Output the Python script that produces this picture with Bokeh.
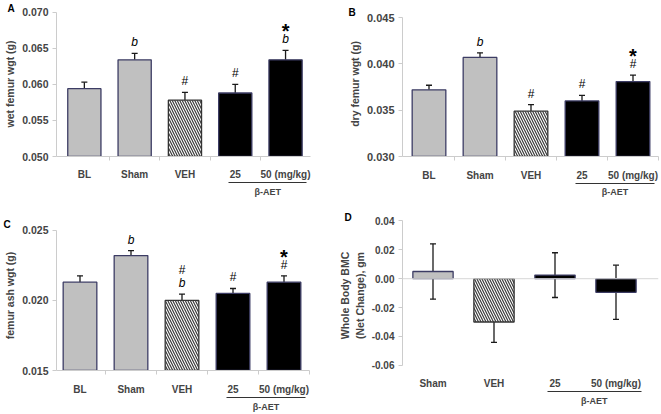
from bokeh.plotting import figure
from bokeh.models import (ColumnDataSource, Range1d, FixedTicker, NumeralTickFormatter,
                          Whisker, TeeHead, Span, LinearAxis, CustomJSTickFormatter)
from bokeh.layouts import column, row
from bokeh.embed import file_html
from bokeh.resources import INLINE
from bokeh.core.properties import value

# ---------------- data ----------------
cats5 = ["BL", "Sham", "VEH", "25", "50 (mg/kg)"]
styles5 = ["gray", "gray", "hatch", "black", "black"]

wet_mean = [0.0594, 0.0634, 0.0578, 0.0588, 0.0634]
wet_err = [0.0009, 0.0009, 0.0011, 0.0012, 0.0013]
wet_ann = [[], ["b"], ["#"], ["#"], ["b", "*"]]
wet_ticks = [0.050, 0.055, 0.060, 0.065, 0.070]

dry_mean = [0.0372, 0.0407, 0.0349, 0.0360, 0.0381]
dry_err = [0.0005, 0.0005, 0.0007, 0.0006, 0.0007]
dry_ann = [[], ["b"], ["#"], ["#"], ["#", "*"]]
dry_ticks = [0.030, 0.035, 0.040, 0.045]

ash_mean = [0.0213, 0.0232, 0.0200, 0.0205, 0.0213]
ash_err = [0.00045, 0.00035, 0.00045, 0.00035, 0.00045]
ash_ann = [[], ["b"], ["b", "#"], ["#"], ["#", "*"]]
ash_ticks = [0.015, 0.020, 0.025]

cats4 = ["Sham", "VEH", "25", "50 (mg/kg)"]
styles4 = ["gray", "hatch", "black", "black"]
bmc_mean = [0.0050, -0.0300, 0.0025, -0.0094]
bmc_err = [0.0192, 0.0141, 0.0155, 0.0188]
bmc_ticks = [-0.06, -0.04, -0.02, 0.00, 0.02, 0.04]

group_label = "\u03b2-AET"

# ---------------- style ----------------
FONT = "Liberation Sans"
GRAY = "#c0c0c0"
EDGE = "#3c3c64"
AX = "#cccccc"
INK = "#1a1a1a"
TXT_H = 11.2  # approx text box height of a 10px label


def panel(W, H, borders, cats, styles, means, errs, yr, yticks, yfmt, ylabel,
          letter, letter_xy, ann=None, both=False, xa=None, unit_px=None, ypix=None,
          tick_fs="10.5px", xlab_standoff=10, grp_standoff=4):
    L, R, T, B = borders
    n = len(cats)
    ft, fb = T, H - B
    # x: -0.5 drawn at canvas column xa, unit_px pixels per category
    xmin = -0.5 - (xa - L) / unit_px
    xmax = -0.5 + (W - R - xa) / unit_px
    # y: yr[0] drawn at canvas row ypix[0], yr[1] at ypix[1]
    s = (yr[1] - yr[0]) / (ypix[0] - ypix[1])
    ylo = yr[0] - (fb - ypix[0]) * s
    yhi = yr[1] + (ypix[1] - ft) * s

    p = figure(width=W, height=H, x_range=Range1d(xmin, xmax), y_range=Range1d(ylo, yhi),
               output_backend="svg", toolbar_location=None,
               min_border_left=L, min_border_right=R, min_border_top=T, min_border_bottom=B)
    p.outline_line_color = None
    p.xgrid.visible = False
    p.ygrid.visible = False
    p.background_fill_color = "white"

    base = 0 if both else yr[0]
    xs = list(range(n))
    for st, fill in (("gray", GRAY), ("black", "black")):
        idx = [i for i in xs if styles[i] == st]
        src = ColumnDataSource(dict(x=idx, top=[means[i] for i in idx]))
        p.vbar(x="x", top="top", bottom=base, width=0.66, source=src,
               fill_color=fill, line_color=EDGE, line_width=1.3)
    idx = [i for i in xs if styles[i] == "hatch"]
    src = ColumnDataSource(dict(x=idx, top=[means[i] for i in idx]))
    p.vbar(x="x", top="top", bottom=base, width=0.66, source=src,
           fill_color="white", line_color="#333333", line_width=1.3,
           hatch_pattern="left_diagonal_line", hatch_color="#3a3a3a",
           hatch_scale=5, hatch_weight=1.2)

    # error bars
    lo = [m - e for m, e in zip(means, errs)] if both else list(means)
    hi = [m + e for m, e in zip(means, errs)]
    esrc = ColumnDataSource(dict(x=xs, lo=lo, hi=hi))
    p.add_layout(Whisker(source=esrc, base="x", lower="lo", upper="hi", dimension="height",
                         line_color=INK, line_width=1.3,
                         upper_head=TeeHead(size=6, line_color=INK, line_width=1.3),
                         lower_head=TeeHead(size=6, line_color=INK, line_width=1.3) if both else None))

    # significance marks
    if ann:
        groups = {"b": dict(style="italic", size="12px"),
                  "#": dict(style="normal", size="12px"),
                  "*": dict(style="bold", size="20px")}
        for mark, fs in groups.items():
            mx, my, off = [], [], []
            for i, lst in enumerate(ann):
                for k, m in enumerate(lst):
                    if m == mark:
                        mx.append(i)
                        my.append(hi[i])
                        extra = 5 if m == "*" else 0
                        off.append(-(11 + 13 * k) + extra)
            if mx:
                src = ColumnDataSource(dict(x=mx, y=my, t=[mark] * len(mx), o=off))
                p.text(x="x", y="y", text="t", y_offset="o", source=src,
                       text_font=value(FONT), text_font_style=fs["style"],
                       text_font_size=fs["size"], text_align="center",
                       text_baseline="middle", text_color="black")

    # y axis
    yax = p.yaxis[0]
    yax.bounds = (yr[0], yr[1])
    yax.ticker = FixedTicker(ticks=yticks)
    yax.formatter = NumeralTickFormatter(format=yfmt)
    yax.minor_tick_line_color = None
    yax.axis_line_color = AX
    yax.major_tick_line_color = AX
    yax.major_tick_out = 4
    yax.major_tick_in = 0
    yax.major_label_standoff = 4
    yax.major_label_text_font = FONT
    yax.major_label_text_font_style = "bold"
    yax.major_label_text_font_size = tick_fs
    yax.axis_label = ylabel
    yax.axis_label_text_font = FONT
    yax.axis_label_text_font_style = "bold"
    yax.axis_label_text_font_size = "10.5px"
    yax.axis_label_standoff = 3

    # category axis
    xax = p.xaxis[0]
    xax.bounds = (xmin, n - 0.5)
    xax.ticker = FixedTicker(ticks=xs, minor_ticks=[i + 0.5 for i in xs])
    xax.major_label_overrides = {i: c for i, c in enumerate(cats)}
    xax.major_tick_line_color = None
    xax.major_tick_out = 0
    xax.major_tick_in = 0
    xax.major_label_standoff = xlab_standoff
    xax.major_label_text_font = FONT
    xax.major_label_text_font_style = "bold"
    xax.major_label_text_font_size = "10px"
    if both:
        xax.axis_line_color = None
        xax.minor_tick_line_color = None
        p.add_layout(Span(location=0, dimension="width", line_color="#d6d6d6", line_width=1))
    else:
        xax.axis_line_color = AX
        xax.minor_tick_line_color = AX
        xax.minor_tick_out = 4
        xax.minor_tick_in = 0

    # beta-AET group bracket: a second axis whose line is bounded
    i25 = cats.index("25")
    i50 = cats.index("50 (mg/kg)")
    x0, x1 = i25 - 0.13, i50 + 0.42
    mid = round((x0 + x1) / 2, 3)
    gax = LinearAxis(bounds=(x0, x1), ticker=FixedTicker(ticks=[mid]),
                     formatter=CustomJSTickFormatter(code="return '%s'" % group_label),
                     axis_line_color="#333333", axis_line_width=1.2,
                     major_tick_line_color=None, minor_tick_line_color=None,
                     major_tick_out=0, major_tick_in=0, major_label_standoff=grp_standoff,
                     major_label_text_font=FONT, major_label_text_font_style="bold",
                     major_label_text_font_size="9px")
    p.add_layout(gax, "below")

    # panel letter as the (left aligned, pulled-in) title; bottom anchored
    cx, ty = letter_xy
    p.title.text = letter
    p.title.align = "left"
    p.title.offset = cx - L
    p.title.vertical_align = "bottom"
    p.title.standoff = 2 * (ft - (ty + TXT_H))
    p.title.text_font = FONT
    p.title.text_font_style = "bold"
    p.title.text_font_size = "10px"
    p.title.text_color = "black"
    return p


# row 1 is 199 px tall, row 2 215 px; borders shared per row / column
pA = panel(330, 199, (56, 20, 11, 40), cats5, styles5, wet_mean, wet_err, (0.050, 0.070),
           wet_ticks, "0.000", "wet femur wgt (g)", "A", (7, 2), ann=wet_ann,
           xa=58.7, unit_px=50.3, ypix=(159, 11.7), xlab_standoff=8, grp_standoff=4)
pB = panel(331, 199, (72, 3, 11, 40), cats5, styles5, dry_mean, dry_err, (0.030, 0.045),
           dry_ticks, "0.000", "dry femur wgt (g)", "B", (18, 6), ann=dry_ann,
           xa=73, unit_px=51.0, ypix=(159, 17.3), tick_fs="11px", xlab_standoff=9,
           grp_standoff=3)
pC = panel(330, 215, (56, 20, 21, 41), cats5, styles5, ash_mean, ash_err, (0.015, 0.025),
           ash_ticks, "0.000", "femur ash wgt (g)", "C", (3, 19), ann=ash_ann,
           xa=54, unit_px=51.0, ypix=(174, 31), xlab_standoff=9, grp_standoff=4)
pD = panel(331, 215, (72, 3, 21, 41), cats4, styles4, bmc_mean, bmc_err, (-0.06, 0.04),
           bmc_ticks, "0.00", "Whole Body BMC\n(Net Change), gm", "D", (14, 12),
           both=True, xa=72, unit_px=61.0, ypix=(168.7, 21.5), tick_fs="10px",
           xlab_standoff=3, grp_standoff=4)

layout = column(row(pA, pB), row(pC, pD))
open("out.html", "w").write(file_html(layout, INLINE))
